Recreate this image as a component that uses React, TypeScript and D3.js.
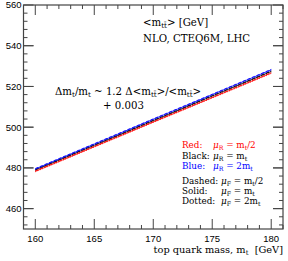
import * as d3 from "d3";
import { useEffect, useRef } from "react";

// top quark mass grid (GeV)
const masses = [160, 165, 170, 175, 180];

// <m_ttbar> [GeV] for muR = mt/2 (red), mt (black), 2mt (blue)
// and muF = mt/2 (dashed), mt (solid), 2mt (dotted)
const redDashed = [478.5, 490.6, 502.7, 514.7, 526.8];
const redSolid = [478.3, 490.4, 502.5, 514.5, 526.6];
const redDotted = [478.1, 490.2, 502.3, 514.3, 526.3];
const blackDashed = [479.2, 491.3, 503.4, 515.5, 527.6];
const blackSolid = [479.0, 491.1, 503.2, 515.3, 527.4];
const blackDotted = [478.8, 490.9, 503.0, 515.1, 527.2];
const blueDashed = [479.7, 491.9, 504.1, 516.2, 528.4];
const blueSolid = [479.5, 491.7, 503.9, 516.0, 528.2];
const blueDotted = [479.3, 491.5, 503.7, 515.8, 528.0];

const xTickLabels = [160, 165, 170, 175, 180];
const yTickLabels = [460, 480, 500, 520, 540, 560];

const App = () => {
  const svgRef = useRef<SVGSVGElement | null>(null);
  const w = 288;
  const h = 261;
  const m = { top: 5, right: 5, bottom: 32, left: 23.5 };

  useEffect(() => {
    if (!svgRef.current) return;
    const svg = d3.select(svgRef.current);
    svg.selectAll("*").remove();

    const x = d3.scaleLinear().domain([159, 181]).range([m.left, w - m.right]);
    const y = d3.scaleLinear().domain([450, 560]).range([h - m.bottom, m.top]);
    const frame = "#444";
    const serif = "'DejaVu Serif', serif";
    const sans = "'Liberation Sans', Arial, sans-serif";

    // curves
    const line = d3.line<number>()
      .x((_, i) => x(masses[i]))
      .y(d => y(d));
    const curves = [
      { v: blackDashed, c: "#000", dash: "3,2" },
      { v: blackSolid, c: "#000", dash: null },
      { v: blackDotted, c: "#000", dash: "1,1.5" },
      { v: redDashed, c: "#ff0000", dash: "3,2" },
      { v: redSolid, c: "#ff0000", dash: null },
      { v: redDotted, c: "#ff0000", dash: "1,1.5" },
      { v: blueDashed, c: "#0000ff", dash: "3,2" },
      { v: blueSolid, c: "#0000ff", dash: null },
      { v: blueDotted, c: "#0000ff", dash: "1,1.5" },
    ];
    svg.append("g").selectAll("path")
      .data(curves)
      .enter().append("path")
      .attr("d", d => line(d.v))
      .attr("fill", "none")
      .attr("stroke", d => d.c)
      .attr("stroke-width", 0.8)
      .attr("stroke-dasharray", d => d.dash);

    // frame
    svg.append("rect")
      .attr("x", x(159)).attr("y", y(560))
      .attr("width", x(181) - x(159)).attr("height", y(450) - y(560))
      .attr("fill", "none").attr("stroke", frame).attr("stroke-width", 1.2);

    // ticks, pointing inward on all four sides
    const ticks = svg.append("g").attr("stroke", frame).attr("stroke-width", 1);
    d3.range(159, 182).forEach(v => {
      const len = v % 5 === 0 ? 10 : 4;
      ticks.append("line").attr("x1", x(v)).attr("x2", x(v)).attr("y1", y(450)).attr("y2", y(450) - len);
      ticks.append("line").attr("x1", x(v)).attr("x2", x(v)).attr("y1", y(560)).attr("y2", y(560) + len);
    });
    d3.range(452, 560, 4).concat(yTickLabels).forEach(v => {
      const len = v % 20 === 0 ? 10 : 4;
      ticks.append("line").attr("y1", y(v)).attr("y2", y(v)).attr("x1", x(159)).attr("x2", x(159) + len);
      ticks.append("line").attr("y1", y(v)).attr("y2", y(v)).attr("x1", x(181)).attr("x2", x(181) - len);
    });

    // tick labels
    svg.append("g").selectAll("text")
      .data(xTickLabels)
      .enter().append("text")
      .attr("x", d => x(d)).attr("y", 242)
      .attr("text-anchor", "middle")
      .style("font", `9.5px ${sans}`)
      .text(d => d);
    svg.append("g").selectAll("text")
      .data(yTickLabels)
      .enter().append("text")
      .attr("x", 21.5).attr("y", d => y(d) + 3.4)
      .attr("text-anchor", "end")
      .style("font", `9.5px ${sans}`)
      .text(d => d);

    // text with subscripts: parts = [text, isSub, italic?]
    const rich = (px: number, py: number, parts: [string, boolean, boolean?][], size = 10, color = "#000", anchor = "start") => {
      const t = svg.append("text")
        .attr("x", px).attr("y", py)
        .attr("text-anchor", anchor)
        .attr("fill", color)
        .attr("xml:space", "preserve")
        .style("white-space", "pre")
        .style("font-family", serif)
        .style("font-size", `${size}px`);
      parts.forEach(([s, sub, it], i) => {
        const prev = i > 0 ? parts[i - 1] : null;
        let dy = 0;
        if (sub && !(prev && prev[1])) dy = 2.2;
        if (!sub && prev && prev[1]) dy = -2.2;
        const ts = t.append("tspan").attr("dy", dy).text(s);
        if (it) ts.style("font-style", "italic");
        if (sub) ts.style("font-size", `${size * 0.7}px`);
      });
      return t;
    };

    rich(143, 26, [["<m", false], ["tt\u0304", true], ["> [GeV]", false]], 10.2);
    rich(143, 42, [["NLO, CTEQ6M, LHC", false]], 10.2);
    rich(55, 95, [["\u0394m", false], ["t", true], ["/m", false], ["t", true], [" ~ 1.2 \u0394<m", false], ["tt\u0304", true], [">/<m", false], ["tt\u0304", true], [">", false]], 10.2);
    rich(103, 109, [["+ 0.003", false]], 10.2);

    // legend
    const red = "#ff0000";
    const blue = "#0000ff";
    const ls = 8.8;
    const lx = 182;
    rich(lx, 148, [["Red:", false]], ls, red);
    rich(213, 148, [["\u03bc", false, true], ["R", true], [" = m", false], ["t", true], ["/2", false]], ls, red);
    rich(lx, 158.5, [["Black:", false]], ls);
    rich(213, 158.5, [["\u03bc", false, true], ["R", true], [" = m", false], ["t", true]], ls);
    rich(lx, 169, [["Blue:", false]], ls, blue);
    rich(213, 169, [["\u03bc", false, true], ["R", true], [" = 2m", false], ["t", true]], ls, blue);
    rich(lx, 183.5, [["Dashed:", false]], ls);
    rich(221, 183.5, [["\u03bc", false, true], ["F", true], [" = m", false], ["t", true], ["/2", false]], ls);
    rich(lx, 193.5, [["Solid:", false]], ls);
    rich(221, 193.5, [["\u03bc", false, true], ["F", true], [" = m", false], ["t", true]], ls);
    rich(lx, 204, [["Dotted:", false]], ls);
    rich(221, 204, [["\u03bc", false, true], ["F", true], [" = 2m", false], ["t", true]], ls);

    // x axis title
    rich(283, 253, [["top quark mass, m", false], ["t", true], ["  [GeV]", false]], 9.8, "#000", "end");
  }, []);

  return (
    <svg ref={svgRef} width={w} height={h}
      style={{ position: "absolute", left: 0, top: 0, background: "#fff" }} />
  );
};

export default App;
